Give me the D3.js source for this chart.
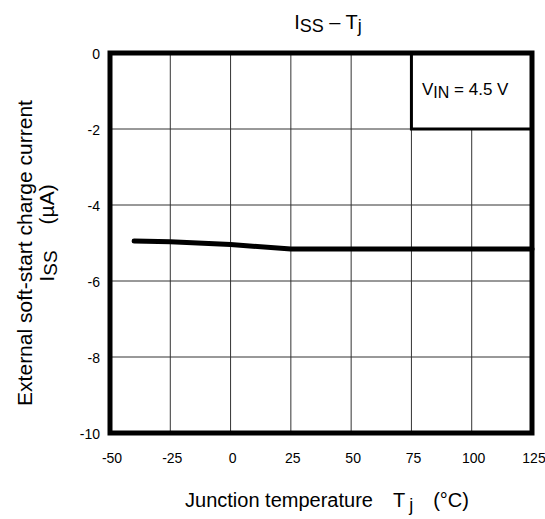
<!DOCTYPE html>
<html>
<head>
<meta charset="utf-8">
<script src="https://cdn.jsdelivr.net/npm/d3@7"></script>
<style>
  body { margin: 0; background: #fff; }
  text { font-family: Arial, "Liberation Sans", sans-serif; fill: #000; }
</style>
</head>
<body>
<div class="chart"></div>
<script>
var temps = [-40, -25, 0, 25, 50, 75, 100, 125];
var iss = [-4.95, -4.97, -5.04, -5.16, -5.16, -5.16, -5.16, -5.16];
var xTicks = [-50, -25, 0, 25, 50, 75, 100, 125];
var yTicks = [0, -2, -4, -6, -8, -10];

var width = 545, height = 519;
var plotL = 110, plotR = 532, plotT = 53, plotB = 433;

var svg = d3.select(".chart")
    .append("svg")
    .attr("width", width)
    .attr("height", height);

var x = d3.scaleLinear().domain([-50, 125]).range([plotL, plotR]);
var y = d3.scaleLinear().domain([-10, 0]).range([plotB, plotT]);

// grid
svg.append("g")
    .selectAll("line")
    .data(xTicks.slice(1, -1))
    .enter()
    .append("line")
    .attr("x1", function (d) { return x(d); })
    .attr("x2", function (d) { return x(d); })
    .attr("y1", plotT)
    .attr("y2", plotB)
    .attr("stroke", "#333")
    .attr("stroke-width", 1);

svg.append("g")
    .selectAll("line")
    .data(yTicks.slice(1, -1))
    .enter()
    .append("line")
    .attr("x1", plotL)
    .attr("x2", plotR)
    .attr("y1", function (d) { return y(d); })
    .attr("y2", function (d) { return y(d); })
    .attr("stroke", "#333")
    .attr("stroke-width", 1);

// legend box
svg.append("rect")
    .attr("x", x(75))
    .attr("y", plotT)
    .attr("width", plotR - x(75))
    .attr("height", y(-2) - plotT)
    .attr("fill", "#fff")
    .attr("stroke", "#000")
    .attr("stroke-width", 3);

var leg = svg.append("text")
    .attr("x", 422)
    .attr("y", 95)
    .style("font-size", "17px");
leg.append("tspan").text("V");
leg.append("tspan").attr("dy", 3).style("font-size", "16px").text("IN");
leg.append("tspan").attr("dy", -3).text(" = 4.5 V");

// data line
var line = d3.line()
    .x(function (d) { return x(d[0]); })
    .y(function (d) { return y(d[1]); });

svg.append("path")
    .datum(d3.zip(temps, iss))
    .attr("d", line)
    .attr("fill", "none")
    .attr("stroke", "#000")
    .attr("stroke-width", 5)
    .attr("stroke-linecap", "round");

// frame
svg.append("rect")
    .attr("x", plotL)
    .attr("y", plotT)
    .attr("width", plotR - plotL)
    .attr("height", plotB - plotT)
    .attr("fill", "none")
    .attr("stroke", "#000")
    .attr("stroke-width", 5);

// tick labels
svg.append("g")
    .selectAll("text")
    .data(xTicks)
    .enter()
    .append("text")
    .attr("x", function (d) { return x(d) + 2; })
    .attr("y", 463)
    .attr("text-anchor", "middle")
    .style("font-size", "14px")
    .text(function (d) { return d; });

svg.append("g")
    .selectAll("text")
    .data(yTicks)
    .enter()
    .append("text")
    .attr("x", 100)
    .attr("y", function (d) { return y(d) + 6; })
    .attr("text-anchor", "end")
    .style("font-size", "14px")
    .text(function (d) { return d; });

// title
var title = svg.append("text")
    .attr("x", 328)
    .attr("y", 29)
    .attr("text-anchor", "middle")
    .style("font-size", "20px");
title.append("tspan").text("I");
title.append("tspan").attr("dy", 3).style("font-size", "18px").text("SS");
title.append("tspan").attr("dy", -3).text(" \u2013 T");
title.append("tspan").attr("dy", 3).style("font-size", "18px").text("j");

// x axis title
var xt = svg.append("text")
    .attr("x", 327)
    .attr("y", 507)
    .attr("text-anchor", "middle")
    .style("font-size", "20px");
xt.append("tspan").text("Junction temperature");
xt.append("tspan").attr("dx", 20).text("T");
xt.append("tspan").attr("dx", 4).attr("dy", 4).style("font-size", "18px").text("j");
xt.append("tspan").attr("dx", 20).attr("dy", -4).text("(\u00b0C)");

// y axis title
svg.append("text")
    .attr("transform", "translate(32,253) rotate(-90)")
    .attr("text-anchor", "middle")
    .style("font-size", "21px")
    .text("External soft-start charge current");

var yt = svg.append("text")
    .attr("transform", "translate(54,233) rotate(-90)")
    .attr("text-anchor", "middle")
    .style("font-size", "21px");
yt.append("tspan").text("I");
yt.append("tspan").attr("dy", 3).style("font-size", "19px").text("SS");
yt.append("tspan").attr("dx", 26).attr("dy", -3).text("(\u00b5A)");
</script>
</body>
</html>
